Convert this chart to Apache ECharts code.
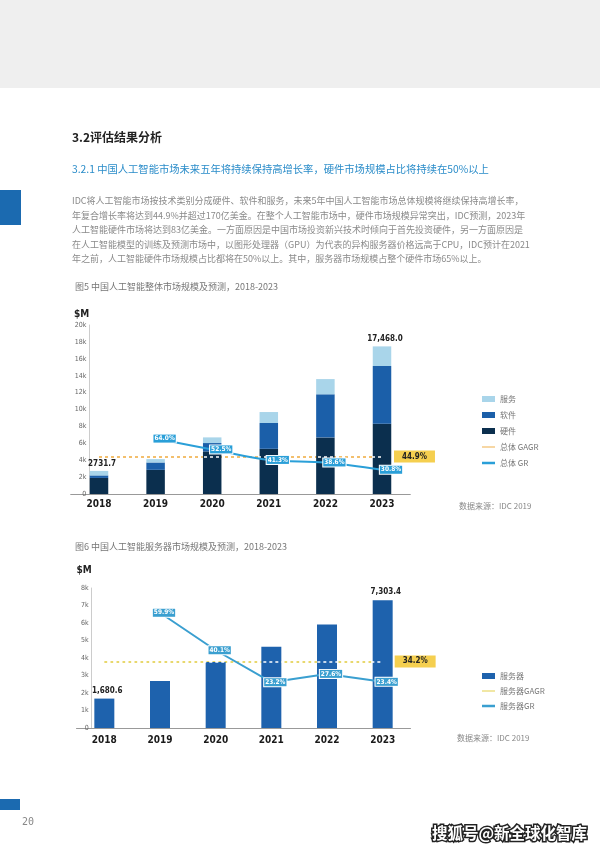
<!DOCTYPE html>
<html><head><meta charset="utf-8">
<script src="https://cdn.jsdelivr.net/npm/echarts@6/dist/echarts.min.js"></script>
<style>html,body{margin:0;padding:0;background:#fff}#c{width:600px;height:848px}</style>
</head><body><div id="c"></div>
<script>
// ---- data ----
const years = ['2018', '2019', '2020', '2021', '2022', '2023'];
const hardware = [1900, 2860, 5040, 5350, 6700, 8300];
const software = [300, 870, 990, 3050, 5100, 6850];
const services = [531.7, 400, 670, 1300, 1800, 2318];
const totalGrowth = [null, 64.0, 52.5, 41.3, 38.6, 30.8];
const totalCagr = 44.9;
const totalEndLabels = ['2731.7', '', '', '', '', '17,468.0'];

const serverMarket = [1680.6, 2687, 3765, 4638, 5918, 7303.4];
const serverGrowth = [null, 59.9, 40.1, 23.2, 27.6, 23.4];
const serverCagr = 34.2;
const serverEndLabels = ['1,680.6', '', '', '', '', '7,303.4'];

const legend1 = ['服务', '软件', '硬件', '总体 GAGR', '总体 GR'];
const legend2 = ['服务器', '服务器GAGR', '服务器GR'];

const heading = '3.2评估结果分析';
const subheading = '3.2.1 中国人工智能市场未来五年将持续保持高增长率，硬件市场规模占比将持续在50%以上';
const paragraph = [
  'IDC将人工智能市场按技术类别分成硬件、软件和服务，未来5年中国人工智能市场总体规模将继续保持高增长率，',
  '年复合增长率将达到44.9%并超过170亿美金。在整个人工智能市场中，硬件市场规模异常突出，IDC预测，2023年',
  '人工智能硬件市场将达到83亿美金。一方面原因是中国市场投资新兴技术时倾向于首先投资硬件，另一方面原因是',
  '在人工智能模型的训练及预测市场中，以图形处理器（GPU）为代表的异构服务器价格远高于CPU，IDC预计在2021',
  '年之前，人工智能硬件市场规模占比都将在50%以上。其中，服务器市场规模占整个硬件市场65%以上。'
];
const fig5Title = '图5 中国人工智能整体市场规模及预测，2018-2023';
const fig6Title = '图6 中国人工智能服务器市场规模及预测，2018-2023';
const sourceText = '数据来源：IDC 2019';

// ---- styles ----
const CJK = "'Noto Sans CJK SC', sans-serif";
const NARROW = "'Liberation Sans Narrow', 'DejaVu Sans Condensed', sans-serif";
const C_HW = '#0b2f4e', C_SW = '#1b5fa9', C_SV = '#a9d5ea', C_SRV = '#1e62ad';
const C_GR = '#2a9fd8', C_GAGR1 = '#f0b04a', C_GAGR2 = '#e3cf4a', C_BOX = '#f5cf4f';
const ICON_THIN = 'path://M0,0H0.01V0.01H0Z M0,2.5H13V3.5H0Z M0,5.99H0.01V6H0Z';
const ICON_THICK = 'path://M0,0H0.01V0.01H0Z M0,1.7H13V4.3H0Z M0,5.99H0.01V6H0Z';

function kFmt(v) { return v === 0 ? '0' : (v / 1000) + 'k'; }
function pct(p) { return p.value == null ? '' : Number(p.value).toFixed(1) + '%'; }

function text(t, x, y, font, fill) {
  return { type: 'text', style: { text: t, x: x, y: y, font: font, fill: fill,
    textVerticalAlign: 'middle', verticalAlign: 'middle' } };
}

const graphics = [
  { type: 'rect', shape: { x: 0, y: 0, width: 600, height: 88 }, style: { fill: '#efefef' } },
  { type: 'rect', shape: { x: 0, y: 190, width: 21, height: 35 }, style: { fill: '#1b6ab0' } },
  { type: 'rect', shape: { x: 0, y: 799, width: 20, height: 11 }, style: { fill: '#1b6ab0' } },
  text(heading, 72, 137, "bold 12px " + CJK, '#222'),
  text(subheading, 72, 169, "10.3px " + CJK, '#2a8cc9'),
  text(fig5Title, 75, 287, "9px " + CJK, '#777'),
  text(fig6Title, 75, 547, "9px " + CJK, '#777'),
  text(sourceText, 459, 506, "8px " + CJK, '#888'),
  text(sourceText, 457, 738, "8px " + CJK, '#888'),
  text('20', 22, 822, "10px 'DejaVu Sans Mono', monospace", '#888'),
  { type: 'text', style: { text: '搜狐号@新全球化智库', x: 432, y: 833, font: "bold 15.5px " + CJK, fill: '#fff',
      stroke: '#222', lineWidth: 3, strokeFirst: true, textVerticalAlign: 'middle', verticalAlign: 'middle' } }
];
paragraph.forEach((line, i) => graphics.push(text(line, 72, 201 + i * 14.4, "9px " + CJK, '#8a8a8a')));

const xAxisCommon = {
  type: 'category', data: years, axisTick: { show: false },
  axisLine: { lineStyle: { color: '#999', width: 1 } },
  axisLabel: { color: '#1a1a1a', fontFamily: NARROW, fontWeight: 'bold', fontSize: 10, margin: 5 }
};
const yAxisCommon = {
  type: 'value', splitLine: { show: false }, axisTick: { show: false },
  axisLine: { show: true, lineStyle: { color: '#ccc' } },
  axisLabel: { color: '#666', fontFamily: NARROW, fontSize: 7, margin: 3, formatter: kFmt },
  name: '$M', nameLocation: 'end',
  nameTextStyle: { color: '#222', fontFamily: NARROW, fontWeight: 'bold', fontSize: 10, align: 'right' }
};

function gagrMarkLines(value, cfg, labelText) {
  const seg = [[{ xAxis: years[0], yAxis: value }, { xAxis: years[years.length - 1], yAxis: value }]];
  return [
    { // dashed reference line, drawn under the bars
      type: 'line', name: cfg.name, xAxisIndex: cfg.x, yAxisIndex: cfg.y, data: [],
      symbol: 'none', lineStyle: { color: cfg.color, width: 1 }, itemStyle: { color: cfg.color },
      markLine: {
        z: 1, silent: true, symbol: ['none', 'none'], animation: false,
        lineStyle: { color: cfg.color, type: [3, 3], width: 1.6 },
        label: { show: true, position: 'end', distance: 12, formatter: labelText, backgroundColor: C_BOX,
          padding: [2, 8], color: '#222', fontFamily: NARROW, fontWeight: 'bold', fontSize: 8 },
        emphasis: { disabled: true },
        data: seg
      }
    },
    { // white dashes in the gaps: only visible on top of the bars
      type: 'line', name: cfg.name + '_overlay', xAxisIndex: cfg.x, yAxisIndex: cfg.y, data: [],
      markLine: {
        z: 3, silent: true, symbol: ['none', 'none'], animation: false,
        lineStyle: { color: '#fff', type: [3, 3], dashOffset: 3, width: 1.6 },
        label: { show: false }, emphasis: { disabled: true },
        data: seg
      }
    }
  ];
}

function grSeries(name, x, y, data, smooth, color, offsetX) {
  return {
    type: 'line', name: name, xAxisIndex: x, yAxisIndex: y, data: data, z: 4, smooth: smooth,
    symbol: 'circle', symbolSize: 1, itemStyle: { color: color }, lineStyle: { color: color, width: 2 },
    label: { show: true, position: 'inside', offset: [offsetX, 0], formatter: pct, color: '#fff',
      backgroundColor: color, borderColor: '#fff', borderWidth: 1, padding: [1, 1, 0, 1],
      fontFamily: NARROW, fontWeight: 'bold', fontSize: 6.5 }
  };
}

function legendData(names, icons) {
  return names.map((n, i) => ({ name: n, icon: icons[i] }));
}

const option = {
  animation: false,
  graphic: graphics,
  grid: [
    { left: 70.7, width: 339.6, top: 325, height: 169 },
    { left: 76.5, width: 334, top: 588, height: 140 }
  ],
  legend: [
    { data: legendData(legend1, ['rect', 'rect', 'rect', ICON_THIN, ICON_THICK]),
      orient: 'vertical', left: 482, top: 395, padding: 0, itemWidth: 13, itemHeight: 6, itemGap: 8,
      textStyle: { color: '#777', fontSize: 8, fontFamily: CJK }, selectedMode: false },
    { data: legendData(legend2, ['rect', ICON_THIN, ICON_THICK]),
      orient: 'vertical', left: 482, top: 672, padding: 0, itemWidth: 13, itemHeight: 6, itemGap: 7,
      textStyle: { color: '#777', fontSize: 8, fontFamily: CJK }, selectedMode: false }
  ],
  xAxis: [
    Object.assign({ gridIndex: 0 }, xAxisCommon),
    Object.assign({ gridIndex: 1 }, xAxisCommon, { axisLabel: Object.assign({}, xAxisCommon.axisLabel, { margin: 7 }) })
  ],
  yAxis: [
    Object.assign({ gridIndex: 0, min: 0, max: 20000, interval: 2000, offset: -18.6, nameGap: 6 }, yAxisCommon),
    { gridIndex: 0, type: 'value', min: 5, max: 185, show: false },
    Object.assign({ gridIndex: 1, min: 0, max: 8000, interval: 1000, offset: -15.2, nameGap: 13 }, yAxisCommon),
    { gridIndex: 1, type: 'value', min: -1, max: 73, show: false }
  ],
  series: [
    { type: 'bar', name: '硬件', stack: 'total', xAxisIndex: 0, yAxisIndex: 0, data: hardware,
      barWidth: 18.5, itemStyle: { color: C_HW }, z: 2 },
    { type: 'bar', name: '软件', stack: 'total', xAxisIndex: 0, yAxisIndex: 0, data: software,
      barWidth: 18.5, itemStyle: { color: C_SW }, z: 2 },
    { type: 'bar', name: '服务', stack: 'total', xAxisIndex: 0, yAxisIndex: 0, data: services,
      barWidth: 18.5, itemStyle: { color: C_SV }, z: 2,
      label: { show: true, position: 'top', distance: 3, offset: [3, 0], formatter: p => totalEndLabels[p.dataIndex],
        color: '#222', fontFamily: NARROW, fontWeight: 'bold', fontSize: 8 } },
    ...gagrMarkLines(totalCagr, { name: '总体 GAGR', x: 0, y: 1, color: C_GAGR1 }, totalCagr.toFixed(1) + '%'),
    grSeries('总体 GR', 0, 1, totalGrowth, 0.35, C_GR, 9),

    { type: 'bar', name: '服务器', xAxisIndex: 1, yAxisIndex: 2, data: serverMarket,
      barWidth: 20, itemStyle: { color: C_SRV }, z: 2,
      label: { show: true, position: 'top', distance: 4, offset: [3, 0], formatter: p => serverEndLabels[p.dataIndex],
        color: '#222', fontFamily: NARROW, fontWeight: 'bold', fontSize: 8 } },
    ...gagrMarkLines(serverCagr, { name: '服务器GAGR', x: 1, y: 3, color: C_GAGR2 }, serverCagr.toFixed(1) + '%'),
    grSeries('服务器GR', 1, 3, serverGrowth, false, '#3a9fd0', 4)
  ]
};

const chart = echarts.init(document.getElementById('c'), null, { renderer: 'canvas' });
chart.setOption(option);
</script></body></html>
